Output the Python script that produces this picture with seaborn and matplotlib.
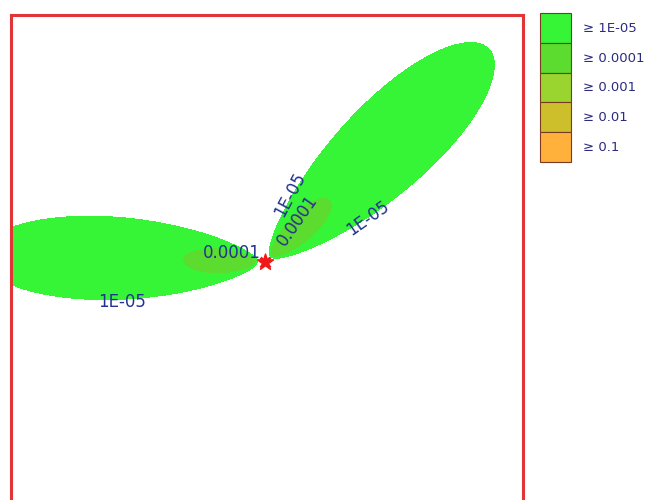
import numpy as np
import matplotlib
matplotlib.use("Agg")
import matplotlib.pyplot as plt
from matplotlib.patches import Patch
import seaborn as sns

# Concentration bands shown in the key
levels = [1e-5, 1e-4, 1e-3, 1e-2, 1e-1]
level_labels = ["≥ 1E-05", "≥ 0.0001", "≥ 0.001", "≥ 0.01", "≥ 0.1"]
level_colors = ["#36f536", "#5bdc2e", "#9ad42e", "#cdbf2b", "#ffb13b"]
contour_text = {1e-5: "1E-05", 1e-4: "0.0001"}

# Two plume lobes from one release point (metres, direction CCW from east)
plume_direction_deg = [178.6, 43.6]
plume_reach_m = [2850.0, 3100.0]
plume_halfwidth_m = [420.0, 460.0]
release_height_m = 60.0
spread_exponent = 0.95

source_x = [0.0]
source_y = [0.0]

# Where the contour values are written, and at what angle
label_points = [(-1430, -400), (-330, 90), (250, 670), (320, 420), (1030, 440)]
label_rotation = [0, 0, 62, 55, 35]

x_lim = (-2545, 2584)
y_lim = (-2659, 2470)

sns.set_theme(style="white")
plt.rcParams["font.family"] = ["DejaVu Sans"]

# Ground-level Gaussian plume field
gx = np.linspace(*x_lim, 800)
gy = np.linspace(*y_lim, 800)
X, Y = np.meshgrid(gx, gy)
conc = np.zeros_like(X)
with np.errstate(all="ignore"):
    for ang, reach, half in zip(plume_direction_deg, plume_reach_m, plume_halfwidth_m):
        th = np.radians(ang)
        s = X * np.cos(th) + Y * np.sin(th)
        r = -X * np.sin(th) + Y * np.cos(th)
        sig_end = half / np.sqrt(2.0 / np.e)
        k = sig_end / reach ** spread_exponent
        amp = levels[0] * sig_end ** 2
        sig = k * np.clip(s, 1e-3, None) ** spread_exponent
        c = (amp / sig ** 2) * np.exp(-r ** 2 / (2 * sig ** 2)) \
            * np.exp(-release_height_m ** 2 / (2 * sig ** 2))
        c = np.where(s > 0, np.nan_to_num(c), 0.0)
        conc += c

fig = plt.figure(figsize=(6.62, 5.0), dpi=100)
W, H = 662.0, 500.0
left, top, side = 10.5, 15.0, 512.9
ax = fig.add_axes([left / W, (H - top - side) / H, side / W, side / H])

ax.contourf(X, Y, conc, levels=levels + [1e9], colors=level_colors)
lines = ax.contour(X, Y, conc, levels=[1e-5, 1e-4], colors="none", linewidths=0)
texts = ax.clabel(lines, manual=label_points, inline=False, fmt=contour_text,
                  fontsize=12, colors="#22338f")
for t, pos, rot in zip(texts, label_points, label_rotation):
    t.set_position(pos)
    t.set_rotation(rot)

sns.scatterplot(x=source_x, y=source_y, ax=ax, marker="*", s=150,
                color="#f01818", edgecolor="#f01818", zorder=5, legend=False)
sns.scatterplot(x=source_x, y=source_y, ax=ax, marker="x", s=50,
                color="#f01818", linewidth=2, zorder=5, legend=False)

ax.set_xlim(*x_lim)
ax.set_ylim(*y_lim)
ax.set_aspect("equal")
ax.set_xticks([])
ax.set_yticks([])
for sp in ax.spines.values():
    sp.set_visible(True)
    sp.set_color("#e23434")
    sp.set_linewidth(2.2)

# Key: stacked swatches, each 31 x 29.7 px
fs = 9.5
fpx = fs * 100 / 72
swatch_h, swatch_w = 29.7, 31.0
handles = [Patch(facecolor=col, edgecolor="#7a3a20", linewidth=0.8, label=lab)
           for col, lab in zip(level_colors, level_labels)]
fig.legend(handles=handles, loc="upper left",
           bbox_to_anchor=(540 / W, 1 - 13.3 / H), bbox_transform=fig.transFigure,
           frameon=False, borderpad=0, borderaxespad=0, labelspacing=0,
           handleheight=(swatch_h / fpx - 0.245) / 0.65, handlelength=swatch_w / fpx,
           handletextpad=12 / fpx, fontsize=fs, labelcolor="#2b2b80")

fig.savefig("out.png", dpi=100)
